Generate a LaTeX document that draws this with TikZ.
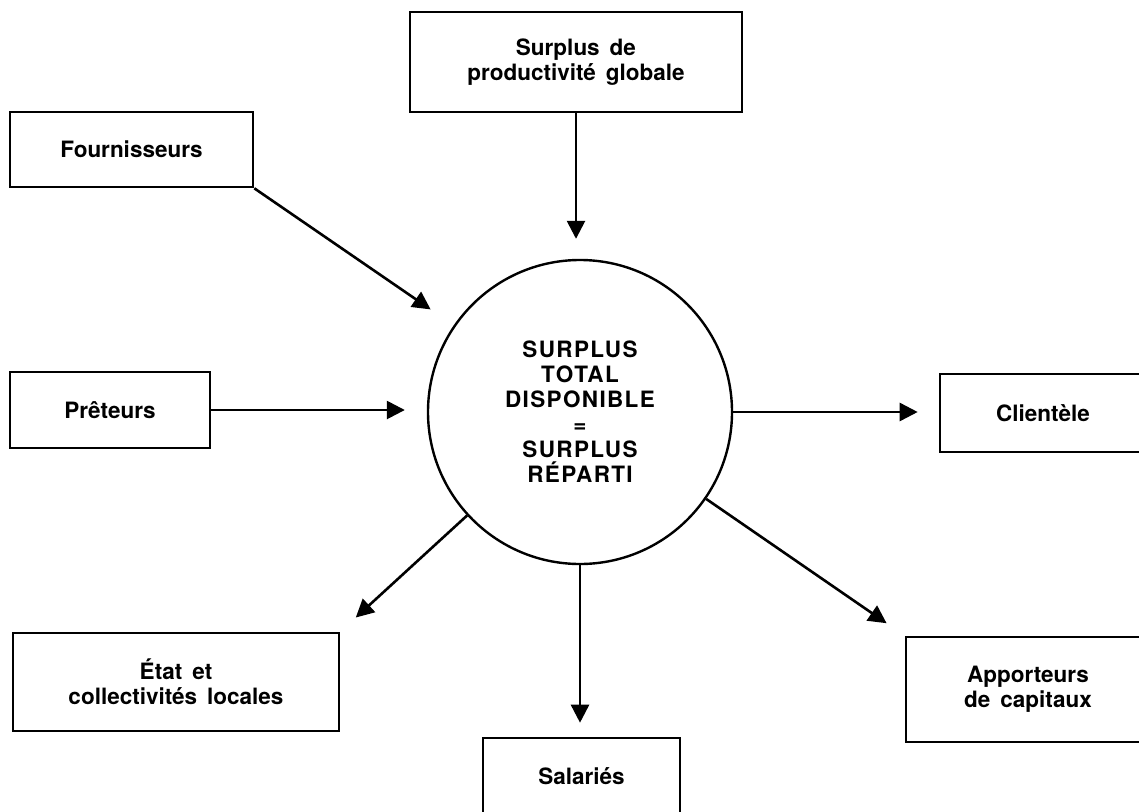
\documentclass[tikz,border=0pt]{standalone}
\usepackage{fontspec}
\setmainfont{TeX Gyre Heros}[WordSpace=1.6]
\newfontfamily\capsfont{TeX Gyre Heros}[LetterSpace=6]
\usetikzlibrary{arrows.meta,calc}
\begin{document}
\begin{tikzpicture}[x=1pt,y=-1pt,
  txt/.style={font=\bfseries\fontsize{22.5}{25}\selectfont, align=center},
  box/.style={txt, draw, line width=2.6pt, inner sep=0pt},
  hub/.style={txt, draw, circle, line width=2.4pt, inner sep=0pt, minimum size=304pt},
  arr/.style={line width=2.6pt, -{Triangle[length=18pt,width=18pt]}}]
\useasboundingbox (0,0) rectangle (1139,811);
\fill[white] (0,0) rectangle (1139,811);

\node[hub] (circ) at (580,412) {\capsfont SURPLUS\\\capsfont TOTAL\\\capsfont DISPONIBLE\\=\\\capsfont SURPLUS\\\capsfont RÉPARTI};

\node[box, minimum width=332pt, minimum height=100pt] (surplus) at (576,62) {Surplus de\\productivité globale};
\node[box, minimum width=243pt, minimum height=75pt] (fourn) at (131.5,149.5) {Fournisseurs};
\node[box, minimum width=200pt, minimum height=76pt] (pret) at (110,410) {Prêteurs};
\node[box, minimum width=206pt, minimum height=78pt] (client) at (1043,413) {Clientèle};
\node[box, minimum width=326pt, minimum height=98pt] (etat) at (176,682) {État et\\collectivités locales};
\node[box, minimum width=197pt, minimum height=77pt] (sal) at (581.5,776.5) {Salariés};
\node[box, minimum width=244pt, minimum height=105pt] (appo) at (1028,689.5) {Apporteurs\\de capitaux};

\draw[arr, shorten >=20pt] (surplus.south) -- (surplus.south |- circ.north);
\draw[arr, shorten >=28pt] (fourn.south east) -- (circ);
\draw[arr, shorten >=22pt] (pret.east) -- (pret.east -| circ.west);
\draw[arr, shorten >=21pt] (circ.east) -- (circ.east -| client.west);
\draw[arr, shorten >=21pt] (circ) -- (etat.north east);
\draw[arr, shorten >=14pt] (circ.south) -- (circ.south |- sal.north);
\draw[arr, shorten >=22pt] (circ) -- (appo.north west);
\end{tikzpicture}
\end{document}
